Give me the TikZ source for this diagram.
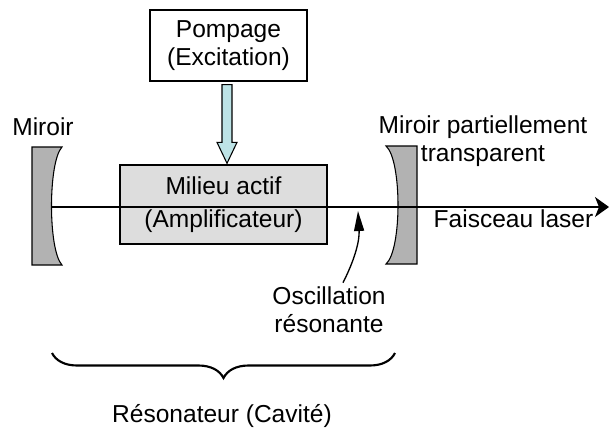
\documentclass[tikz,border=0pt]{standalone}
\usepackage{fontspec}
\setmainfont{Liberation Sans}
\usetikzlibrary{positioning,arrows.meta,decorations.pathreplacing,calc}
\definecolor{mirrorgray}{HTML}{B2B2B2}
\definecolor{mediumgray}{HTML}{DDDDDD}
\definecolor{pumpcyan}{HTML}{BDE3E6}

\begin{document}
\begin{tikzpicture}[x=0.75pt,y=-0.75pt,
		every node/.style={font=\fontsize{18.4}{21}\selectfont},
		box/.style={rectangle,draw,line width=1pt,align=center,inner sep=0pt},
		miroir/.style={draw,fill=mirrorgray,line width=0.8pt},
		label text/.style={align=center,inner sep=0pt}]

		\useasboundingbox (0,0) rectangle (611,429);

		\node[box,fill=white,minimum width=117.75pt,minimum height=53.25pt] (pompage) at (228.5,45.5) {Pompage\\(Excitation)};
		\node[box,fill=mediumgray,minimum width=155.25pt,minimum height=59.25pt] (milieu) at (223.5,204.5) {Milieu actif\\[4pt](Amplificateur)};

		% miroirs
		\draw[miroir] (32,147) -- (62,147) .. controls (48,162) and (48,250) .. (62,265) -- (32,265) -- cycle;
		\draw[miroir] (386,146) -- (417,146) -- (417,264) -- (386,264) .. controls (402,250) and (402,160) .. cycle;

		\coordinate (mirG) at (51,207);
		\coordinate (mirD) at (398,207);
		\coordinate (sortie) at (609,207);
		\coordinate (oscTip) at (358,211);
		\coordinate (braceG) at (52,353);
		\coordinate (braceD) at (395,353);

		% faisceau
		\draw[line width=2.2pt] (mirG) -- (mirD);
		\draw[line width=1.1pt,-{Stealth[length=10.5pt,width=15pt,inset=3pt]}] (mirD) -- (sortie);

		% pompage
		\coordinate (pTop) at ($(pompage.south)+(-1.5,3)$);
		\coordinate (pTip) at ($(pTop |- milieu.north)+(0,-1)$);
		\draw[line width=0.8pt,fill=pumpcyan] ($(pTop)+(-5,0)$) -- ($(pTop)+(5,0)$) -- ($(pTip)+(5,-21)$)
			-- ($(pTip)+(10,-21)$) -- (pTip) -- ($(pTip)+(-10,-21)$) -- ($(pTip)+(-5,-21)$) -- cycle;

		\node[label text] (osc) at (329,310) {Oscillation\\résonante};
		\draw[line width=1pt,-{Triangle[length=15pt,width=7.5pt]}] ([xshift=10.5pt,yshift=3pt]osc.north) to[bend right=15] (oscTip);

		\node[anchor=base] (lblG) at (43,135) {Miroir};
		\node[label text] (lblD) at (483,141) {Miroir partiellement\\transparent};
		\node[anchor=base] (faisceau) at (513.5,227) {Faisceau laser};

		\draw[line width=1.6pt,decorate,decoration={brace,mirror,amplitude=18.75pt}] (braceG) -- (braceD);
		\node[anchor=base] (resonateur) at (222,422) {Résonateur (Cavité)};
\end{tikzpicture}
\end{document}
